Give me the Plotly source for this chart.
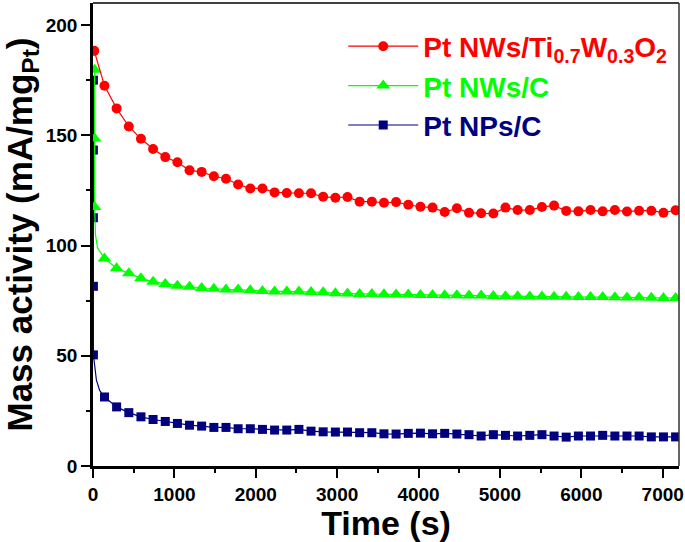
import plotly.graph_objects as go

# ---------------- data ----------------
time_s = [141, 290, 440, 589, 738, 888, 1037, 1186, 1335, 1485,
          1634, 1783, 1933, 2082, 2231, 2381, 2530, 2679, 2828, 2978,
          3127, 3276, 3426, 3575, 3724, 3874, 4023, 4172, 4321, 4471,
          4620, 4769, 4919, 5068, 5217, 5367, 5516, 5665, 5814, 5964,
          6113, 6262, 6412, 6561, 6710, 6860, 7009, 7158]

pt_nws_tiwo = [172.5, 162.2, 154.0, 148.4, 143.8, 140.1, 137.8, 134.1, 133.4, 131.4,
               130.3, 127.7, 125.9, 125.9, 124.1, 123.8, 123.7, 123.7, 122.1, 121.7,
               122.0, 119.9, 119.9, 119.4, 119.7, 118.5, 117.6, 117.2, 115.2, 116.9,
               114.9, 114.6, 114.5, 117.2, 116.1, 116.1, 117.5, 118.1, 115.7, 115.5,
               116.1, 115.5, 116.1, 115.4, 115.8, 115.8, 114.9, 116.0]

pt_nws_c = [94.1, 89.7, 87.4, 85.1, 83.6, 82.6, 81.8, 81.3, 80.7, 80.4,
            80.1, 80.0, 79.7, 79.4, 79.2, 79.1, 79.1, 78.9, 78.8, 78.3,
            78.2, 78.0, 78.0, 77.9, 77.8, 77.8, 77.6, 77.6, 77.5, 77.4,
            77.3, 77.3, 77.1, 77.0, 77.0, 76.9, 76.9, 76.8, 76.8, 76.7,
            76.6, 76.6, 76.5, 76.4, 76.4, 76.3, 76.2, 76.2]

pt_nps_c = [31.3, 26.8, 24.2, 22.3, 21.1, 20.2, 19.3, 18.5, 18.1, 17.5,
            17.5, 16.9, 16.9, 16.6, 16.3, 16.3, 16.6, 15.8, 15.5, 15.4,
            15.4, 15.1, 15.1, 14.6, 14.5, 14.8, 14.9, 14.6, 14.8, 14.5,
            14.2, 13.6, 14.2, 13.9, 13.6, 13.9, 14.2, 13.6, 13.1, 13.6,
            13.6, 13.9, 13.6, 13.6, 13.6, 13.2, 13.2, 13.2]

# first seconds of the measurement (markers at t ~ 0)
tiwo_early_t = [15]
tiwo_early = [188.3]
nws_c_early_t = [20, 20, 20]
nws_c_early = [179.7, 148.5, 117.5]
nps_c_early_t = [5, 5, 5, 5, 5]
nps_c_early = [175.0, 143.3, 112.6, 81.5, 50.4]

# unmarked points of the fast initial decay (line only)
tiwo_trans_t = []
tiwo_trans = []
nws_c_trans_t = [30, 55]
nws_c_trans = [105.0, 99.0]
nps_c_trans_t = [42, 82]
nps_c_trans = [38.9, 34.3]

x_ticks = [0, 1000, 2000, 3000, 4000, 5000, 6000, 7000]
y_ticks = [0, 50, 100, 150, 200]

names = ["Pt NWs/Ti<sub>0.7</sub>W<sub>0.3</sub>O<sub>2</sub>", "Pt NWs/C", "Pt NPs/C"]
colors = ["#FF0000", "#00FF00", "#000080"]
symbols = ["circle", "triangle-up", "square"]
sizes = [10, 12, 9]

FONT = "Liberation Sans, Arial, sans-serif"

series = [
    (tiwo_early_t, tiwo_early, tiwo_trans_t, tiwo_trans, pt_nws_tiwo),
    (nws_c_early_t, nws_c_early, nws_c_trans_t, nws_c_trans, pt_nws_c),
    (nps_c_early_t, nps_c_early, nps_c_trans_t, nps_c_trans, pt_nps_c),
]

fig = go.Figure()

# draw order: blue, green, red (red on top)
for idx in [2, 1, 0]:
    et, ev, tt, tv, main = series[idx]
    col = colors[idx]
    # initial fast decay line
    fig.add_trace(go.Scatter(
        x=et + tt + [time_s[0]], y=ev + tv + [main[0]],
        mode="lines", line=dict(color=col, width=1.2),
        showlegend=False, hoverinfo="skip"))
    # initial markers
    fig.add_trace(go.Scatter(
        x=et, y=ev, mode="markers",
        marker=dict(symbol=symbols[idx], size=sizes[idx], color=col, line=dict(width=0)),
        showlegend=False, hoverinfo="skip"))
    # main series
    fig.add_trace(go.Scatter(
        x=time_s, y=main, mode="lines+markers",
        name=f'<span style="color:{col}">{names[idx]}</span>',
        line=dict(color=col, width=1.2),
        marker=dict(symbol=symbols[idx], size=sizes[idx], color=col, line=dict(width=0)),
        legendrank=idx + 1))

axis_common = dict(
    showgrid=False, zeroline=False, automargin=False,
    showline=True, linecolor="black", linewidth=2.5,
    ticks="outside", ticklen=9, tickwidth=2, tickcolor="black",
    tickfont=dict(family=FONT, size=19, color="black", weight="bold"),
)

fig.update_xaxes(
    range=[0, 7200], tickvals=x_ticks, ticktext=[str(v) for v in x_ticks],
    minor=dict(ticks="outside", ticklen=4, tickwidth=2, dtick=500, tick0=0, tickcolor="black"),
    title=dict(text="Time (s)", font=dict(family=FONT, size=34, color="black", weight="bold"), standoff=8),
    **axis_common)
fig.update_yaxes(
    range=[0, 210], tickvals=y_ticks, ticktext=[str(v) for v in y_ticks],
    minor=dict(ticks="outside", ticklen=4, tickwidth=2, dtick=25, tick0=0, tickcolor="black"),
    title=dict(text="Mass activity (mA/mg<sub>Pt</sub>)",
               font=dict(family=FONT, size=35, color="black", weight="bold"), standoff=21),
    **axis_common)

fig.update_layout(
    width=685, height=542,
    margin=dict(l=93, r=6, t=3, b=76),
    plot_bgcolor="white", paper_bgcolor="white",
    legend=dict(x=0.427, y=0.96, xanchor="left", yanchor="top",
                bgcolor="rgba(0,0,0,0)", borderwidth=0,
                itemwidth=70, traceorder="normal",
                font=dict(family=FONT, size=28, color="black", weight="bold")),
    shapes=[
        dict(type="line", xref="paper", yref="paper", x0=0, x1=1, y0=1, y1=1,
             line=dict(color="black", width=1.5)),
        dict(type="line", xref="paper", yref="paper", x0=1, x1=1, y0=0, y1=1,
             line=dict(color="#333333", width=1.5)),
    ],
)

fig.write_html("out.html", config={"displayModeBar": False},
               post_script="document.body.style.margin='0';")
